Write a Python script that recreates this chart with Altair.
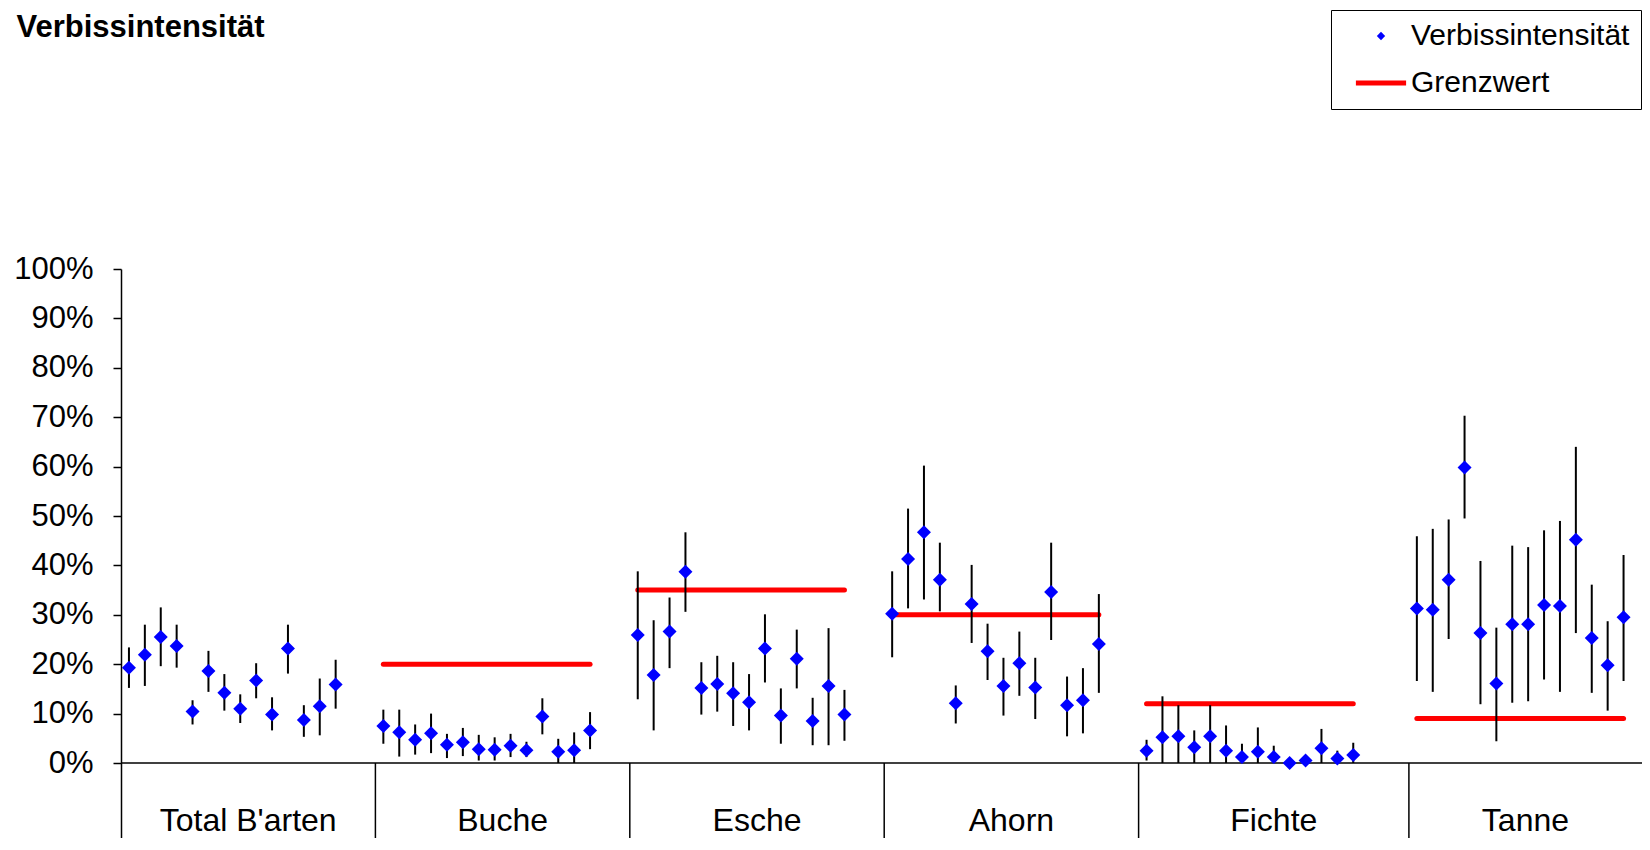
import altair as alt
import pandas as pd

# ---------------- data ----------------
groups = ["Total B'arten", "Buche", "Esche", "Ahorn", "Fichte", "Tanne"]
limits = [None, 20, 35, 30, 12, 9]   # Grenzwert per group

total_val = [19.3, 21.9, 25.5, 23.7, 10.4, 18.6, 14.2, 11.0, 16.7, 9.8, 23.2, 8.7, 11.5, 15.9]
total_hi = [23.4, 28.0, 31.5, 28.0, 12.7, 22.7, 18.0, 13.9, 20.2, 13.3, 28.0, 11.7, 17.1, 20.9]
total_lo = [15.2, 15.6, 19.6, 19.3, 7.8, 14.4, 10.6, 8.1, 13.1, 6.6, 18.1, 5.3, 5.6, 11.0]

buche_val = [7.5, 6.2, 4.7, 6.0, 3.7, 4.2, 2.8, 2.7, 3.5, 2.6, 9.4, 2.3, 2.6, 6.6]
buche_hi = [10.8, 10.8, 7.8, 10.0, 5.9, 7.1, 5.7, 5.2, 5.9, 4.3, 13.1, 4.9, 6.2, 10.3]
buche_lo = [3.9, 1.3, 1.7, 2.0, 1.0, 1.4, 0.5, 0.5, 1.2, 1.2, 5.8, 0.0, 0.0, 2.8]

esche_val = [25.9, 17.8, 26.6, 38.7, 15.2, 16.0, 14.1, 12.3, 23.2, 9.6, 21.1, 8.5, 15.6, 9.8]
esche_hi = [38.8, 28.9, 33.5, 46.7, 20.4, 21.7, 20.4, 18.0, 30.1, 15.1, 27.0, 13.2, 27.3, 14.8]
esche_lo = [12.9, 6.6, 19.2, 30.6, 9.8, 10.4, 7.5, 6.6, 16.3, 3.9, 15.1, 3.6, 3.6, 4.5]

ahorn_val = [30.2, 41.3, 46.7, 37.1, 12.1, 32.2, 22.6, 15.6, 20.2, 15.3, 34.6, 11.7, 12.7, 24.1]
ahorn_hi = [38.8, 51.5, 60.2, 44.6, 15.7, 40.1, 28.2, 21.3, 26.6, 21.3, 44.6, 17.5, 19.2, 34.2]
ahorn_lo = [21.4, 31.3, 33.1, 30.7, 8.0, 24.3, 16.8, 9.6, 13.6, 8.9, 24.9, 5.4, 6.0, 14.2]

fichte_val = [2.5, 5.2, 5.4, 3.2, 5.4, 2.5, 1.2, 2.3, 1.2, 0.0, 0.5, 3.0, 0.9, 1.6]
fichte_hi = [4.7, 13.5, 11.7, 6.6, 11.7, 7.6, 3.9, 7.2, 3.5, 0.0, 0.5, 6.9, 2.5, 4.1]
fichte_lo = [0.5, 0.0, 0.0, 0.0, 0.0, 0.0, 0.0, 0.0, 0.0, 0.0, 0.5, 0.0, 0.0, 0.0]

tanne_val = [31.3, 31.0, 37.1, 59.8, 26.3, 16.1, 28.1, 28.1, 32.0, 31.8, 45.2, 25.3, 19.8, 29.5]
tanne_hi = [45.9, 47.4, 49.3, 70.3, 40.9, 27.4, 44.0, 43.7, 47.1, 49.0, 64.0, 36.1, 28.7, 42.1]
tanne_lo = [16.6, 14.4, 25.1, 49.5, 11.9, 4.4, 12.2, 12.5, 16.9, 14.4, 26.3, 14.2, 10.6, 16.6]

y_ticks = [0, 10, 20, 30, 40, 50, 60, 70, 80, 90, 100]

# ---------------- layout (category slots) ----------------
slot_start = [0, 16, 32, 48, 64, 81]   # first category slot of each group
X_MAX = 95.66
PLOT_H = 569
Y_MIN = 100 - PLOT_H / 4.94
LABEL_Y = -13.8
FONT = "Liberation Sans"
TITLE = "Verbissintensität"
S_POINT = "Verbissintensität"
S_LIMIT = "Grenzwert"
LINE_SYMBOL = "M-6,-0.6H6V0.6H-6Z"   # legend symbol for the limit line

series_vals = [total_val, buche_val, esche_val, ahorn_val, fichte_val, tanne_val]
series_hi = [total_hi, buche_hi, esche_hi, ahorn_hi, fichte_hi, tanne_hi]
series_lo = [total_lo, buche_lo, esche_lo, ahorn_lo, fichte_lo, tanne_lo]

rows = []
for g, s0, vals, his, los in zip(groups, slot_start, series_vals, series_hi, series_lo):
    for i, (v, h, l) in enumerate(zip(vals, his, los)):
        rows.append({"group": g, "x": s0 + i + 0.5, "value": v, "high": h, "low": l,
                     "series": S_POINT})
df = pd.DataFrame(rows)

lim_rows = []
for g, s0, vals, lim in zip(groups, slot_start, series_vals, limits):
    if lim is not None:
        lim_rows.append({"group": g, "x": s0 + 0.5, "x2": s0 + len(vals) - 0.5,
                         "limit": lim})
df_lim = pd.DataFrame(lim_rows)

ends = slot_start[1:] + [X_MAX]
df_lab = pd.DataFrame({"group": groups,
                       "x": [(a + min(b, X_MAX)) / 2 for a, b in zip(slot_start, ends)],
                       "y": [LABEL_Y] * len(groups)})
df_sep = pd.DataFrame({"x": slot_start[1:], "y": [0] * 5, "y2": [Y_MIN] * 5})
df_axis = pd.DataFrame({"x": [0], "x2": [X_MAX], "y": [0]})

xs = alt.Scale(domain=[0, X_MAX], nice=False, zero=False)
ys = alt.Scale(domain=[Y_MIN, 100], nice=False, zero=False)
cs = alt.Scale(domain=[S_POINT, S_LIMIT], range=["#0000FF", "#FF0000"])
ss = alt.Scale(domain=[S_POINT, S_LIMIT], range=["diamond", LINE_SYMBOL])

legend = alt.Legend(
    title=None, orient="none", legendX=1210, legendY=-259,
    padding=11, symbolOffset=24, labelOffset=15, rowPadding=17,
    symbolSize=70, symbolOpacity=1, symbolStrokeWidth=0,
    strokeColor="black", fillColor="white", cornerRadius=0,
    labelFont=FONT, labelFontSize=30, labelColor="black", labelLimit=400,
)

yaxis = alt.Axis(values=y_ticks, labelExpr="datum.value + '%'", grid=False,
                 tickSize=8, tickColor="black", tickWidth=1.5,
                 domainColor="black", domainWidth=1.5,
                 labelFont=FONT, labelFontSize=31, labelColor="black", labelPadding=20,
                 title=TITLE, titleAngle=0, titleX=-105, titleY=-233,
                 titleAlign="left", titleBaseline="alphabetic",
                 titleFont=FONT, titleFontSize=31, titleFontWeight="bold",
                 titleColor="black")

X = alt.X("x:Q", scale=xs, axis=None)

x_line = alt.Chart(df_axis).mark_rule(color="black", strokeWidth=1.5).encode(
    x=X, x2="x2:Q", y=alt.Y("y:Q", scale=ys, axis=yaxis),
)

seps = alt.Chart(df_sep).mark_rule(color="black", strokeWidth=1.5).encode(
    x=X, y=alt.Y("y:Q", scale=ys), y2="y2:Q",
)

limit_lines = alt.Chart(df_lim).mark_rule(strokeWidth=5, strokeCap="round", color="#FF0000").encode(
    x=X, x2="x2:Q", y=alt.Y("limit:Q", scale=ys),
)

errbars = alt.Chart(df).mark_rule(color="black", strokeWidth=2).encode(
    x=X, y=alt.Y("low:Q", scale=ys), y2="high:Q",
)

points = alt.Chart(df).mark_point(filled=True, size=196, opacity=1).encode(
    x=X, y=alt.Y("value:Q", scale=ys),
    color=alt.Color("series:N", scale=cs, legend=legend),
    shape=alt.Shape("series:N", scale=ss, legend=legend),
)

labels = alt.Chart(df_lab).mark_text(font=FONT, fontSize=32, color="black",
                                     baseline="alphabetic", align="center").encode(
    x=X, y=alt.Y("y:Q", scale=ys), text="group:N",
)

chart = alt.layer(x_line, seps, limit_lines, errbars, points, labels).properties(
    width=1521, height=PLOT_H,
    padding={"left": 113, "top": 261, "right": 0, "bottom": 0},
    autosize=alt.AutoSizeParams(type="none"),
    background="white",
).configure_view(stroke=None)

chart.save("out.html", embed_options={"renderer": "svg", "actions": False})
